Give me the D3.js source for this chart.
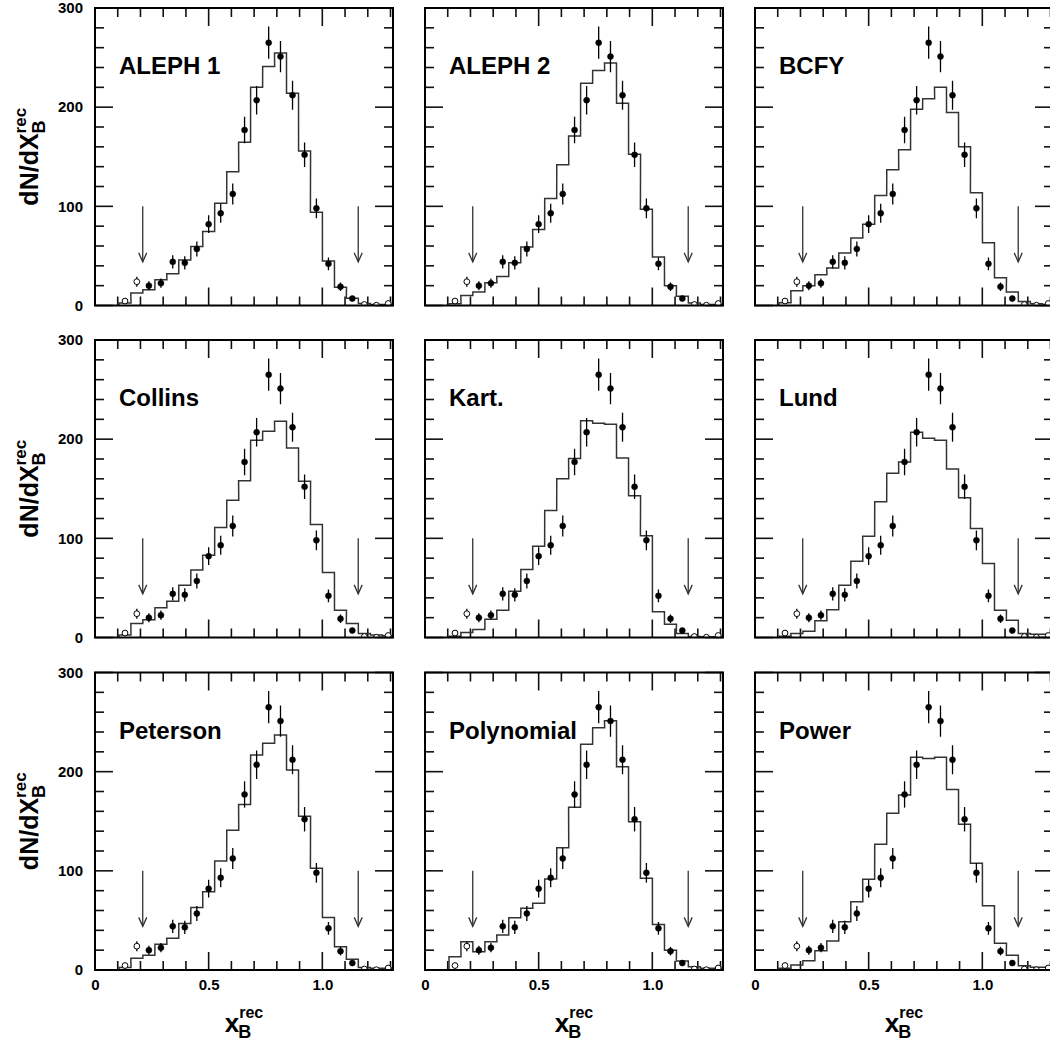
<!DOCTYPE html>
<html><head><meta charset="utf-8">
<script src="https://cdn.jsdelivr.net/npm/d3@7"></script>
<style>
body{margin:0;background:#fff}
text{font-family:"Liberation Sans",Arial,Helvetica,sans-serif;font-weight:bold;fill:#000}
</style>
</head><body>
<svg id="c" width="1050" height="1044"></svg>
<script>
// ---------------- data ----------------
const models = ["ALEPH 1","ALEPH 2","BCFY","Collins","Kart.","Lund","Peterson","Polynomial","Power"];
const binCenters = [0.132,0.184,0.237,0.290,0.342,0.395,0.448,0.500,0.553,0.606,0.658,0.711,
                    0.764,0.816,0.869,0.922,0.974,1.027,1.080,1.132,1.185,1.238,1.290];
const binWidth = 0.0527;
const dataValues = [4.5,24,20,22.5,44,43,57,82,93,112.5,177,207,265,251,212,152,98,42,19,7,1,0.3,2];
const dataErrors = [2,5,4.5,4.7,6.6,6.6,7.5,9,9.6,10.6,13.3,14.4,16.3,15.8,14.6,12.3,9.9,6.4,4.3,2.6,1,0.6,1.4];
const openPoints = [0,1,20,21,22];

const histAleph1 = [2.4,12.5,15.8,26,32,46,59.6,74.7,103,135,164.6,220,241,254.6,214,155.8,94,45,18.5,7.4,2,1,1];
const histAleph2 = [1.7,10,13.5,23,29.3,43,59,76.6,108,142,171,224,237,244.5,204,152.4,97,49,20,9.4,2.4,1,1];
const histBCFY = [2.7,15,20,31,37.8,53,68,82,111,137,157,198,208.4,220,194.6,160,113.7,63.4,28,13.5,4,1.7,1];
const histCollins = [2.4,14,18,30,36.6,52.8,68,83,111,138.5,158,199,208,218,191,157.6,114,65.5,27.6,14,4,2.4,1.7];
const histKart = [1.3,5,8,18.5,27.6,46.7,68.6,92,128,160,180.5,218.5,216,215,181,143,102.5,26,13.4,4,1,0.7,0.7];
const histLund = [1.3,4,6.4,16.8,28,52.8,77,102,137,165.6,177,207,201,199,170,141,110,74.6,27.6,17.5,4,3.4,3.4];
const histPeterson = [2.4,11.8,15,26,32,47,63,79,110,141,167,216.8,228.6,237,201.7,155,102.5,53,23.5,10.8,2.4,1.7,1.7];
const histPolynomial = [13.4,28.6,18.5,28.6,35.3,52.8,62.2,67.2,91.8,123.4,164,227.6,244.4,251.4,205,149.6,92.4,46,20,9,3.4,1.7,1.7];
const histPower = [1.7,5,9.4,19.5,29.2,48.7,68.9,91.4,126.7,158,176.5,214.5,213.4,214.5,182,146.9,107.6,64.9,26.9,15,4.4,2.7,2.7];
const histograms = [histAleph1,histAleph2,histBCFY,histCollins,histKart,histLund,histPeterson,histPolynomial,histPower];

const arrowsX = [0.21, 1.158];
const arrowFrom = 100, arrowTo = 44;

const xMajorTicks = [0, 0.5, 1.0];
const xMinorTicks = [0.1,0.2,0.3,0.4,0.6,0.7,0.8,0.9,1.1,1.2,1.3];
const xTickLabels = ["0","0.5","1.0"];
const yMajorTicks = [0,100,200,300];
const yMinorTicks = [20,40,60,80,120,140,160,180,220,240,260,280];
const yTickLabels = ["0","100","200","300"];
const xDomain = [0, 1.311];
const yDomain = [0, 300];

// ---------------- layout ----------------
const colX = [95, 425, 755];
const rowY = [8, 340, 672.5];
const W = 298, H = 297.5;
const svg = d3.select("#c");

const x = d3.scaleLinear().domain(xDomain).range([0, W]);
const y = d3.scaleLinear().domain(yDomain).range([H, 0]);

svg.append("defs").append("clipPath").attr("id","clip")
  .append("rect").attr("x",0).attr("y",0).attr("width",W).attr("height",H);

function ticks(g, vals, len, side){
  const s = g.append("g");
  vals.forEach(v=>{
    let a;
    if (side==="bottom") a=[x(v),H,x(v),H-len];
    else if (side==="top") a=[x(v),0,x(v),len];
    else if (side==="left") a=[0,y(v),len,y(v)];
    else a=[W,y(v),W-len,y(v)];
    s.append("line").attr("x1",a[0]).attr("y1",a[1]).attr("x2",a[2]).attr("y2",a[3])
      .attr("stroke","#111").attr("stroke-width",1.6);
  });
}

models.forEach((name, i) => {
  const r = Math.floor(i/3), c = i%3;
  const g = svg.append("g").attr("transform",`translate(${colX[c]},${rowY[r]})`);

  ["bottom","top"].forEach(sd=>{ ticks(g,xMinorTicks,9,sd); ticks(g,xMajorTicks,18,sd); });
  ["left","right"].forEach(sd=>{ ticks(g,yMinorTicks,9,sd); ticks(g,yMajorTicks,18,sd); });

  if (c === 0) {
    const ya = g.append("g")
      .call(d3.axisLeft(y).tickValues(yMajorTicks).tickSize(0).tickPadding(12)
        .tickFormat((d,k)=>yTickLabels[k]));
    ya.select(".domain").remove();
    ya.selectAll("text").style("font-size","15px").style("font-family","'Liberation Sans',Arial,sans-serif").style("font-weight","bold");
  }
  if (r === 2) {
    const xa = g.append("g").attr("transform",`translate(0,${H})`)
      .call(d3.axisBottom(x).tickValues(xMajorTicks).tickSize(0).tickPadding(9)
        .tickFormat((d,k)=>xTickLabels[k]));
    xa.select(".domain").remove();
    xa.selectAll("text").style("font-size","15px").style("font-family","'Liberation Sans',Arial,sans-serif").style("font-weight","bold");
  }

  const plot = g.append("g").attr("clip-path","url(#clip)");
  const h = histograms[i];
  let p = d3.path();
  p.moveTo(x(binCenters[0] - binWidth/2), y(0));
  h.forEach((v,k)=>{
    p.lineTo(x(binCenters[k]-binWidth/2), y(v));
    p.lineTo(x(binCenters[k]+binWidth/2), y(v));
  });
  plot.append("path").attr("d",p.toString()).attr("fill","none")
    .attr("stroke","#333").attr("stroke-width",1.5);

  arrowsX.forEach(ax=>{
    plot.append("line").attr("x1",x(ax)).attr("x2",x(ax))
      .attr("y1",y(arrowFrom)).attr("y2",y(arrowTo))
      .attr("stroke","#333").attr("stroke-width",1.3);
    plot.append("path")
      .attr("d",`M${x(ax)-4},${y(arrowTo)-9}L${x(ax)},${y(arrowTo)}L${x(ax)+4},${y(arrowTo)-9}`)
      .attr("fill","none").attr("stroke","#333").attr("stroke-width",1.3);
  });

  dataValues.forEach((v,k)=>{
    const cx = x(binCenters[k]);
    plot.append("line").attr("x1",cx).attr("x2",cx)
      .attr("y1",y(v-dataErrors[k])).attr("y2",y(v+dataErrors[k]))
      .attr("stroke","#000").attr("stroke-width",1.3);
    const open = openPoints.includes(k);
    plot.append("circle").attr("cx",cx).attr("cy",y(v)).attr("r",open?2.9:3)
      .attr("fill",open?"#fff":"#000").attr("stroke","#000").attr("stroke-width",open?1:0.5);
  });

  g.append("rect").attr("x",0).attr("y",0).attr("width",W).attr("height",H)
    .attr("fill","none").attr("stroke","#000").attr("stroke-width",2);

  g.append("text").attr("x",24).attr("y",66).style("font-size","24px").text(name);

  if (c === 0) {
    const lg = svg.append("g");
    const t1 = lg.append("text").attr("x",0).attr("y",0).style("font-size","25px").text("dN/dX");
    const w1 = t1.node().getComputedTextLength();
    const tb = lg.append("text").attr("x",w1).attr("y",7).style("font-size","18px").text("B");
    const tr = lg.append("text").attr("x",w1).attr("y",-12).style("font-size","17px").text("rec");
    const tot = w1 + Math.max(tb.node().getComputedTextLength(), tr.node().getComputedTextLength());
    lg.attr("transform",`translate(38,${rowY[r] + H/2}) rotate(-90) translate(${-tot/2},0)`);
  }
  if (r === 2) {
    const lg = svg.append("g");
    const t1 = lg.append("text").attr("x",0).attr("y",0).style("font-size","26px").text("x");
    const w1 = t1.node().getComputedTextLength();
    const tb = lg.append("text").attr("x",w1-1).attr("y",6).style("font-size","18px").text("B");
    const tr = lg.append("text").attr("x",w1).attr("y",-14).style("font-size","16px").text("rec");
    const tot = w1 + Math.max(tb.node().getComputedTextLength(), tr.node().getComputedTextLength());
    lg.attr("transform",`translate(${colX[c]+W/2 - tot/2},1032)`);
  }
});
</script>
</body></html>
